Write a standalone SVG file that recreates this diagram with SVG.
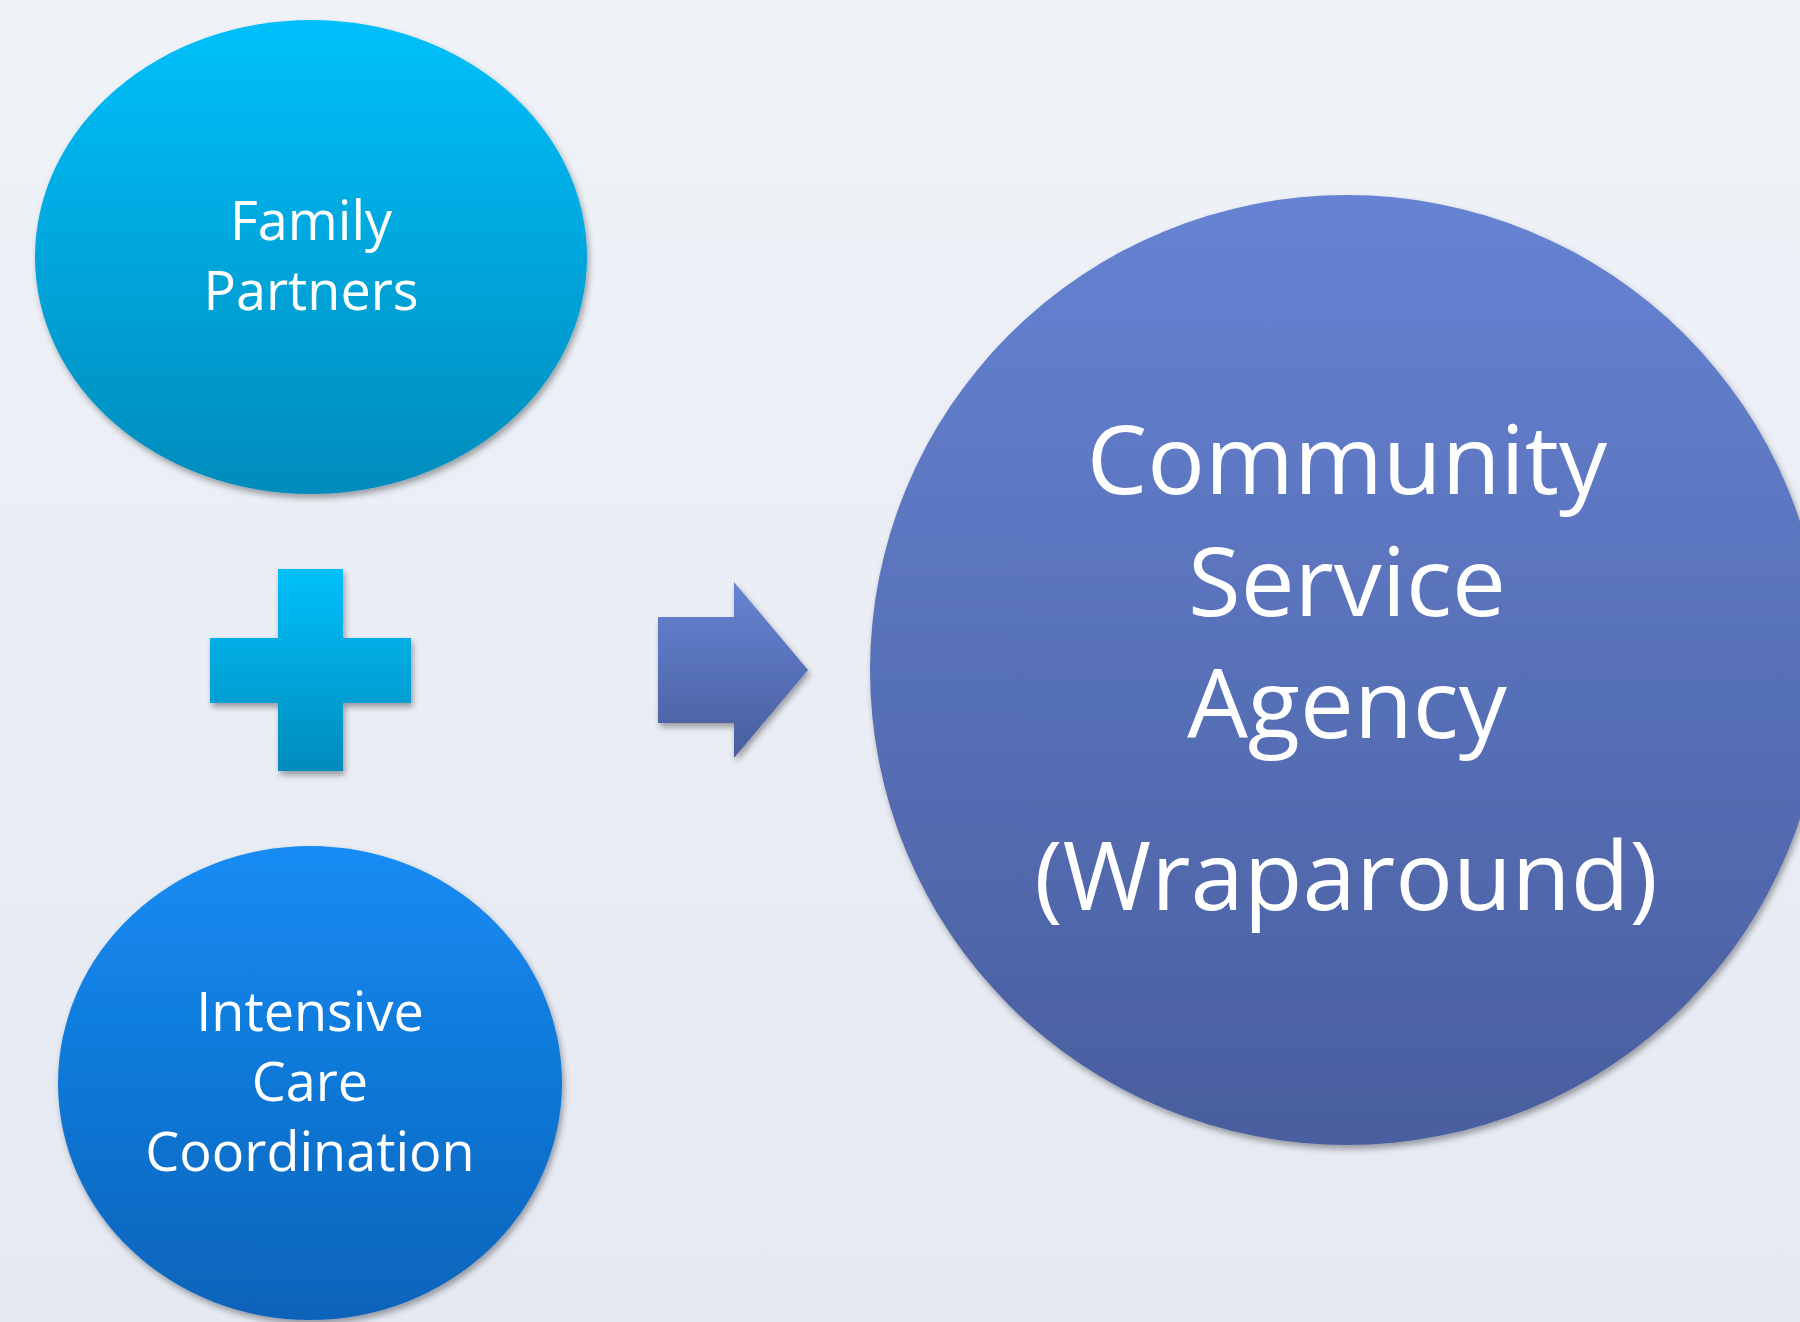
<svg xmlns="http://www.w3.org/2000/svg" width="1800" height="1322" viewBox="0 0 1800 1322">
  <defs>
    <linearGradient id="bg" x1="0" y1="0" x2="0" y2="1">
      <stop offset="0" stop-color="#eff2f7"/>
      <stop offset="1" stop-color="#e5e9f2"/>
    </linearGradient>
    <linearGradient id="cyan" x1="0" y1="0" x2="0" y2="1">
      <stop offset="0" stop-color="#00c0fb"/>
      <stop offset="1" stop-color="#008cbc"/>
    </linearGradient>
    <linearGradient id="azure" x1="0" y1="0" x2="0" y2="1">
      <stop offset="0" stop-color="#148cf4"/>
      <stop offset="1" stop-color="#0c63b9"/>
    </linearGradient>
    <linearGradient id="indigo" x1="0" y1="0" x2="0" y2="1">
      <stop offset="0" stop-color="#6683d3"/>
      <stop offset="1" stop-color="#495e9e"/>
    </linearGradient>
    <filter id="shadow" x="-10%" y="-10%" width="120%" height="120%">
      <feDropShadow dx="2" dy="4" stdDeviation="3" flood-color="#000" flood-opacity="0.35"/>
    </filter>
    <style>
      .label { font-family: "Open Sans", "Liberation Sans", sans-serif; fill: #ffffff; text-anchor: middle; }
      .small { font-size: 54px; }
      .large { font-size: 96px; }
    </style>
  </defs>

  <rect x="0" y="0" width="1800" height="1322" fill="url(#bg)"/>

  <g id="family-partners">
    <ellipse cx="311" cy="257" rx="276" ry="237" fill="url(#cyan)" filter="url(#shadow)"/>
    <text class="label small" x="311" y="240">Family</text>
    <text class="label small" x="311" y="310">Partners</text>
  </g>

  <g id="plus">
    <path d="M278 569 H343 V638 H411 V703 H343 V771 H278 V703 H210 V638 H278 Z" fill="url(#cyan)" filter="url(#shadow)"/>
  </g>

  <g id="intensive-care-coordination">
    <ellipse cx="310" cy="1083" rx="252" ry="237" fill="url(#azure)" filter="url(#shadow)"/>
    <text class="label small" x="310" y="1031">Intensive</text>
    <text class="label small" x="310" y="1101">Care</text>
    <text class="label small" x="310" y="1171">Coordination</text>
  </g>

  <g id="connectors">
    <path d="M658 617 H734 V582 L808 670 L734 758 V723 H658 Z" fill="url(#indigo)" filter="url(#shadow)"/>
  </g>

  <g id="community-service-agency">
    <ellipse cx="1347" cy="670" rx="477" ry="475" fill="url(#indigo)" filter="url(#shadow)"/>
    <text class="label large" x="1347" y="494">Community</text>
    <text class="label large" x="1347" y="616">Service</text>
    <text class="label large" x="1347" y="738">Agency</text>
    <text class="label large" x="1346" y="910">(Wraparound)</text>
  </g>
</svg>
